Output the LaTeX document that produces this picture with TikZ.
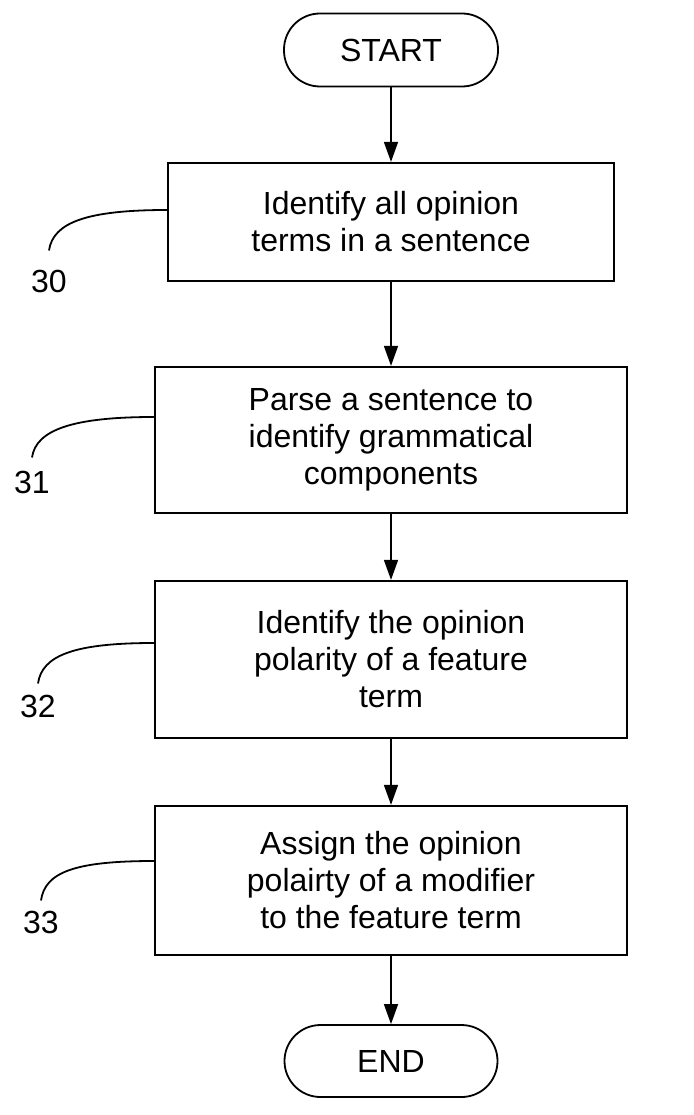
\documentclass[tikz,border=0pt]{standalone}
\usepackage{fontspec}
\setmainfont{Liberation Sans}
\usetikzlibrary{arrows.meta}

\begin{document}
\begin{tikzpicture}[x=1pt,y=-1pt,font=\fontsize{32}{37}\selectfont,
  stepbox/.style={draw,line width=2.2pt,minimum width=472pt,align=center,inner sep=0pt},
  terminal/.style={draw,line width=1.8pt,rounded corners=36pt,minimum width=214pt,minimum height=73pt},
  refnum/.style={inner sep=0pt},
  flow/.style={line width=1.5pt,-{Triangle[length=20pt,width=14pt]}},
  leader/.style={line width=1.8pt}]
  \useasboundingbox (0,0) rectangle (693,1115);
  \node[terminal] (start) at (391,50) {START};
  \node[stepbox,minimum width=446pt,minimum height=118pt] (box30) at (391,222) {Identify all opinion\\terms in a sentence};
  \node[stepbox,minimum height=146pt] (box31) at (391,440) {Parse a sentence to\\identify grammatical\\components};
  \node[stepbox,minimum height=157pt] (box32) at (391,659.5) {Identify the opinion\\polarity of a feature\\term};
  \node[stepbox,minimum height=149pt] (box33) at (391,880.5) {Assign the opinion\\polairty of a modifier\\to the feature term};
  \node[terminal,minimum width=213pt,minimum height=72pt] (end) at (391,1061) {END};
  \draw[flow] (start) -- (box30);
  \draw[flow] (box30) -- (box31);
  \draw[flow] (box31) -- (box32);
  \draw[flow] (box32) -- (box33);
  \draw[flow] (box33) -- (end);
  \node[refnum] (l30) at (49,281) {30};
  \node[refnum] (l31) at (32,482) {31};
  \node[refnum] (l32) at (38,706) {32};
  \node[refnum] (l33) at (41,922) {33};
  \draw[leader] ([yshift=19pt]l30.north) .. controls +(4,-28) and +(-80,0) .. ([yshift=12pt]box30.west);
  \draw[leader] ([yshift=13pt]l31.north) .. controls +(4,-28) and +(-80,0) .. ([yshift=23pt]box31.west);
  \draw[leader] ([yshift=11pt]l32.north) .. controls +(4,-28) and +(-80,0) .. ([yshift=16.5pt]box32.west);
  \draw[leader] ([yshift=10pt]l33.north) .. controls +(4,-28) and +(-80,0) .. ([yshift=19.5pt]box33.west);
\end{tikzpicture}
\end{document}
